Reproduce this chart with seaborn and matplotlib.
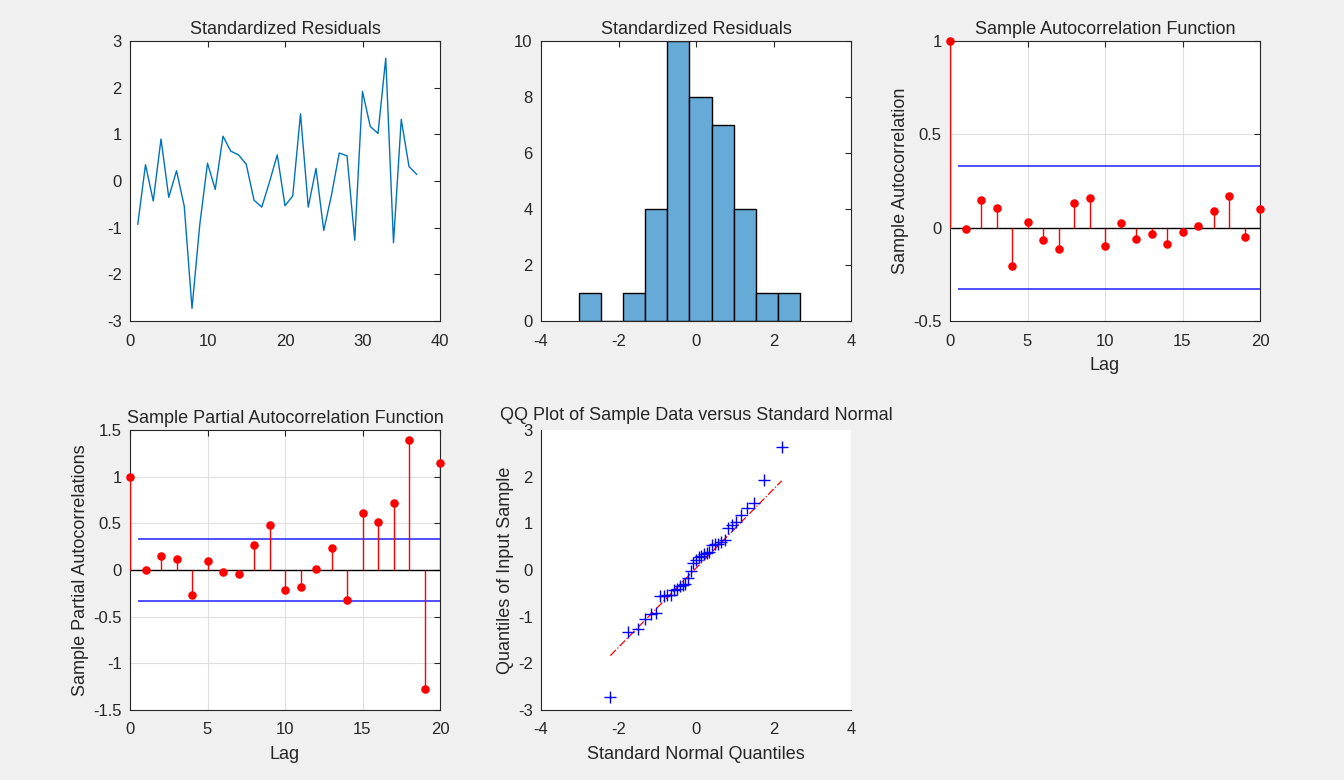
import warnings

warnings.filterwarnings('ignore')

from statistics import NormalDist

import numpy as np
import pandas as pd
import matplotlib
matplotlib.use('Agg')
import matplotlib.pyplot as plt
import seaborn as sns

# %%
# Standardized residuals (t = 1..37)
residuals = [-0.93, 0.35, -0.43, 0.90, -0.35, 0.22, -0.54, -2.73, -0.94, 0.38,
             -0.18, 0.96, 0.64, 0.56, 0.36, -0.41, -0.56, -0.02, 0.56, -0.53,
             -0.32, 1.44, -0.56, 0.27, -1.06, -0.30, 0.60, 0.54, -1.27, 1.92,
             1.17, 1.02, 2.63, -1.32, 1.32, 0.31, 0.14]

# histogram bin edges as drawn
hist_edges = [-3.02, -2.45, -1.88, -1.31, -0.74, -0.17, 0.40, 0.97, 1.55, 2.12, 2.69]

lags = list(range(21))
acf_vals = [1.0, -0.005, 0.147, 0.107, -0.207, 0.030, -0.064, -0.116, 0.132, 0.157,
            -0.097, 0.023, -0.061, -0.032, -0.086, -0.021, 0.011, 0.091, 0.168,
            -0.052, 0.098]
pacf_vals = [1.0, 0.0, 0.15, 0.12, -0.265, 0.093, -0.018, -0.047, 0.265, 0.477,
             -0.215, -0.179, 0.007, 0.24, -0.326, 0.613, 0.509, 0.72, 1.394,
             -1.28, 1.15]
conf_bound = 0.329

# %%
sns.set_style('white')
plt.rcParams['font.family'] = ['Liberation Sans', 'DejaVu Sans']
plt.rcParams['font.size'] = 12
plt.rcParams['axes.titlesize'] = 13
plt.rcParams['axes.labelsize'] = 13
plt.rcParams['axes.unicode_minus'] = False
plt.rcParams['xtick.direction'] = 'in'
plt.rcParams['ytick.direction'] = 'in'

FG = '#262626'
GRID = '#dfdfdf'

df = pd.DataFrame({'t': np.arange(1, len(residuals) + 1), 'res': residuals})
acf_df = pd.DataFrame({'lag': lags, 'acf': acf_vals, 'pacf': pacf_vals})

fig = plt.figure(figsize=(13.44, 7.8), dpi=100, facecolor='#f0f0f0')

col_left = [130 / 1344, 541 / 1344, 950 / 1344]
col_w = 310 / 1344
row_bottom = [1 - 321 / 780, 1 - 710 / 780]
row_h = 280 / 780


def style_axes(ax, box=True):
    ax.set_facecolor('white')
    for s in ax.spines.values():
        s.set_color(FG)
        s.set_linewidth(0.8)
    if not box:
        ax.spines['top'].set_visible(False)
        ax.spines['right'].set_visible(False)
    ax.tick_params(colors=FG, length=4, width=0.8, top=box, right=box, labelsize=12)
    ax.tick_params(axis='x', pad=9)
    ax.tick_params(axis='y', pad=6)
    ax.set_xlabel(ax.get_xlabel(), color=FG, labelpad=6)
    ax.set_ylabel(ax.get_ylabel(), color=FG, labelpad=3)


# %%
# residual series
ax1 = fig.add_axes([col_left[0], row_bottom[0], col_w, row_h])
sns.lineplot(data=df, x='t', y='res', ax=ax1, color='#0072BD', linewidth=1)
ax1.set_xlim(0, 40)
ax1.set_ylim(-3, 3)
ax1.set_xticks([0, 10, 20, 30, 40])
ax1.set_yticks(range(-3, 4))
ax1.set_xlabel('')
ax1.set_ylabel('')
ax1.set_title('Standardized Residuals', pad=5)
style_axes(ax1)

# histogram
ax2 = fig.add_axes([col_left[1], row_bottom[0], col_w, row_h])
sns.histplot(data=df, x='res', bins=hist_edges, ax=ax2, color='#66AAD7',
             alpha=1, edgecolor='black', linewidth=1)
ax2.set_xlim(-4, 4)
ax2.set_ylim(0, 10)
ax2.set_xticks([-4, -2, 0, 2, 4])
ax2.set_yticks(range(0, 11, 2))
ax2.set_xlabel('')
ax2.set_ylabel('')
ax2.set_title('Standardized Residuals', pad=5)
style_axes(ax2)


def stem_panel(ax, col, ylim, yticks, title, ylabel):
    ax.grid(True, color=GRID, linewidth=0.8)
    ax.set_axisbelow(True)
    ax.axhline(0, color='black', linewidth=1, zorder=2)
    ax.vlines(acf_df['lag'], 0, acf_df[col], color='red', linewidth=1, zorder=3)
    sns.scatterplot(data=acf_df, x='lag', y=col, ax=ax, color='red', s=38,
                    edgecolor='red', linewidth=0, zorder=4, clip_on=False)
    ax.hlines([conf_bound, -conf_bound], 0.5, 20, color='#2020ff', linewidth=1.1, zorder=2)
    ax.set_xlim(0, 20)
    ax.set_ylim(*ylim)
    ax.set_xticks([0, 5, 10, 15, 20])
    ax.set_yticks(yticks)
    ax.set_yticklabels([f'{v:g}' for v in yticks])
    ax.set_xlabel('Lag')
    ax.set_ylabel(ylabel)
    ax.set_title(title, pad=5)
    style_axes(ax)


ax3 = fig.add_axes([col_left[2], row_bottom[0], col_w, row_h])
stem_panel(ax3, 'acf', (-0.5, 1), [-0.5, 0, 0.5, 1],
           'Sample Autocorrelation Function', 'Sample Autocorrelation')

ax4 = fig.add_axes([col_left[0], row_bottom[1], col_w, row_h])
stem_panel(ax4, 'pacf', (-1.5, 1.5), [-1.5, -1, -0.5, 0, 0.5, 1, 1.5],
           'Sample Partial Autocorrelation Function', 'Sample Partial Autocorrelations')

# %%
# QQ plot
n = len(residuals)
nd = NormalDist()
qq = pd.DataFrame({
    'theory': [nd.inv_cdf((i - 0.5) / n) for i in range(1, n + 1)],
    'sample': np.sort(residuals),
})
q1, q3 = np.percentile(qq['sample'], [25, 75], method='hazen')
z1, z3 = nd.inv_cdf(0.25), nd.inv_cdf(0.75)
slope = (q3 - q1) / (z3 - z1)
line_x = np.array([qq['theory'].min(), qq['theory'].max()])
line_y = q1 + slope * (line_x - z1)

ax5 = fig.add_axes([col_left[1], row_bottom[1], col_w, row_h])
ax5.plot(line_x, line_y, color='red', linestyle='-.', linewidth=0.9, zorder=2)
sns.scatterplot(data=qq, x='theory', y='sample', ax=ax5, marker='+', s=70,
                color='blue', linewidth=1, zorder=3)
ax5.set_xlim(-4, 4)
ax5.set_ylim(-3, 3)
ax5.set_xticks([-4, -2, 0, 2, 4])
ax5.set_yticks(range(-3, 4))
ax5.set_xlabel('Standard Normal Quantiles')
ax5.set_ylabel('Quantiles of Input Sample')
ax5.set_title('QQ Plot of Sample Data versus Standard Normal', pad=7)
style_axes(ax5, box=False)

fig.savefig('out.png', dpi=100, facecolor=fig.get_facecolor())
